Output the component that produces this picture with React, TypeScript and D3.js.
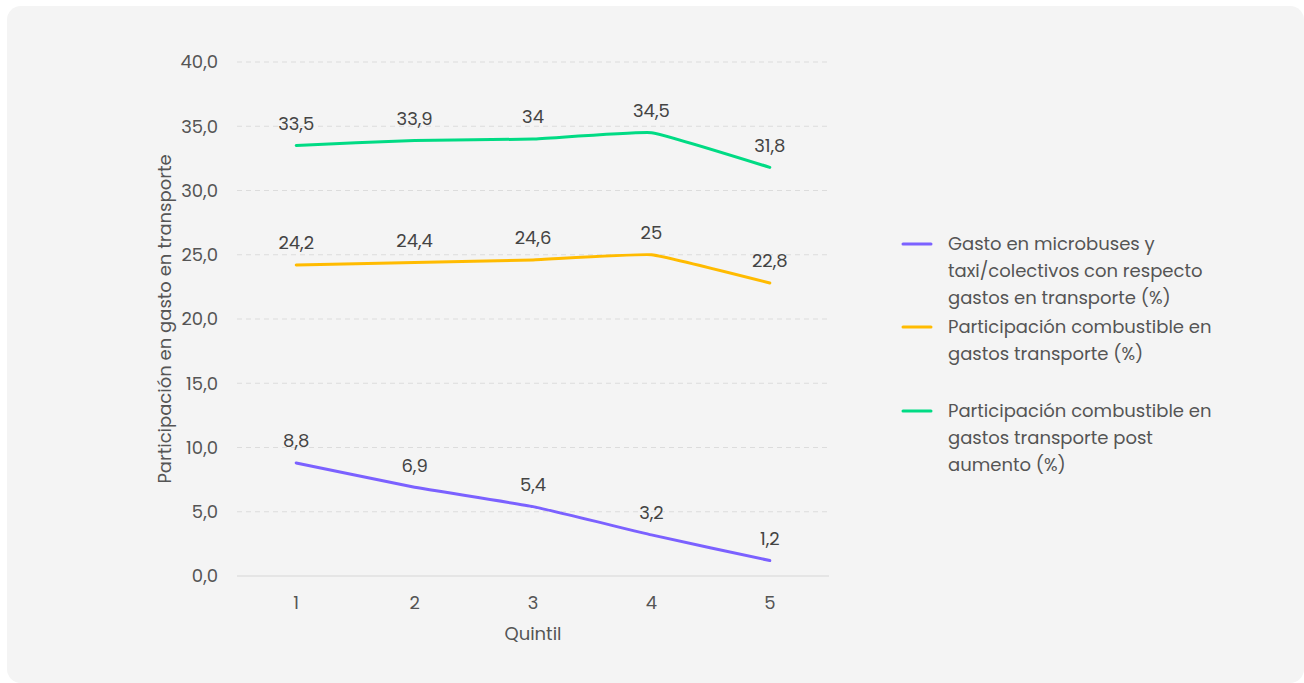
import React from "react";
import * as d3 from "d3";

const quintiles = ["1", "2", "3", "4", "5"];
const yTicks = [0, 5, 10, 15, 20, 25, 30, 35, 40];
const microbuses = [8.8, 6.9, 5.4, 3.2, 1.2];
const combustible = [24.2, 24.4, 24.6, 25, 22.8];
const combustiblePost = [33.5, 33.9, 34, 34.5, 31.8];
const seriesNames = [
  ["Gasto en microbuses y", "taxi/colectivos con respecto", "gastos en transporte (%)"],
  ["Participación combustible en", "gastos transporte (%)"],
  ["Participación combustible en", "gastos transporte post", "aumento (%)"],
];
const seriesColors = ["#7b61ff", "#ffbb00", "#00db84"];
const seriesLabels = [
  ["8,8", "6,9", "5,4", "3,2", "1,2"],
  ["24,2", "24,4", "24,6", "25", "22,8"],
  ["33,5", "33,9", "34", "34,5", "31,8"],
];

const W = 1304;
const H = 683;
const FONT = "Poppins, 'Open Sans', sans-serif";
const TEXT = "#555";
const FS = 18;

export default function App() {
  const x = d3.scaleBand<string>().domain(quintiles).range([237, 829]).padding(0);
  const y = d3.scaleLinear().domain([0, 40]).range([576, 62]);
  const cx = (q: string) => (x(q) as number) + x.bandwidth() / 2;
  const series = [microbuses, combustible, combustiblePost];
  const line = d3
    .line<number>()
    .x((_, i) => cx(quintiles[i]))
    .y((d) => y(d))
    .curve(d3.curveCardinal.tension(0.7));
  const legendY = [244, 327, 411];

  return (
    <div style={{ position: "absolute", left: 0, top: 0 }}>
      <svg width={W} height={H} style={{ display: "block", fontFamily: FONT }}>
        <rect x={0} y={0} width={W} height={H} fill="#ffffff" />
        <rect x={7} y={6} width={1297} height={677} rx={14} fill="#f4f4f4" />
        {yTicks.map((t) => (
          <g key={t}>
            {t === 0 ? (
              <line x1={237} x2={829} y1={y(t)} y2={y(t)} stroke="#d6d6d6" strokeWidth={1} />
            ) : (
              <line
                x1={237}
                x2={829}
                y1={y(t)}
                y2={y(t)}
                stroke="#dcdcdc"
                strokeWidth={1}
                strokeDasharray="5,4"
              />
            )}
            <text x={218} y={y(t)} dy="0.35em" textAnchor="end" fontSize={FS} fill={TEXT}>
              {t.toFixed(1).replace(".", ",")}
            </text>
          </g>
        ))}
        {quintiles.map((q) => (
          <text key={q} x={cx(q)} y={603} dy="0.35em" textAnchor="middle" fontSize={FS} fill={TEXT}>
            {q}
          </text>
        ))}
        <text x={533} y={634} dy="0.35em" textAnchor="middle" fontSize={FS} fill={TEXT}>
          Quintil
        </text>
        <text
          transform={`translate(165,319) rotate(-90)`}
          dy="0.35em"
          textAnchor="middle"
          fontSize={FS}
          fill={TEXT}
        >
          Participación en gasto en transporte
        </text>
        {series.map((s, si) => (
          <g key={si}>
            <path
              d={line(s) || ""}
              fill="none"
              stroke={seriesColors[si]}
              strokeWidth={3}
              strokeLinecap="round"
              strokeLinejoin="round"
            />
            {s.map((v, i) => (
              <text
                key={i}
                x={cx(quintiles[i])}
                y={y(v) - 22}
                dy="0.35em"
                textAnchor="middle"
                fontSize={FS}
                fill="#444"
              >
                {seriesLabels[si][i]}
              </text>
            ))}
          </g>
        ))}
        {seriesNames.map((lines, si) => (
          <g key={si}>
            <line
              x1={903}
              x2={931}
              y1={legendY[si]}
              y2={legendY[si]}
              stroke={seriesColors[si]}
              strokeWidth={3}
              strokeLinecap="round"
            />
            {lines.map((l, li) => (
              <text key={li} x={948} y={legendY[si] + li * 27} dy="0.35em" fontSize={FS} fill={TEXT}>
                {l}
              </text>
            ))}
          </g>
        ))}
      </svg>
    </div>
  );
}
